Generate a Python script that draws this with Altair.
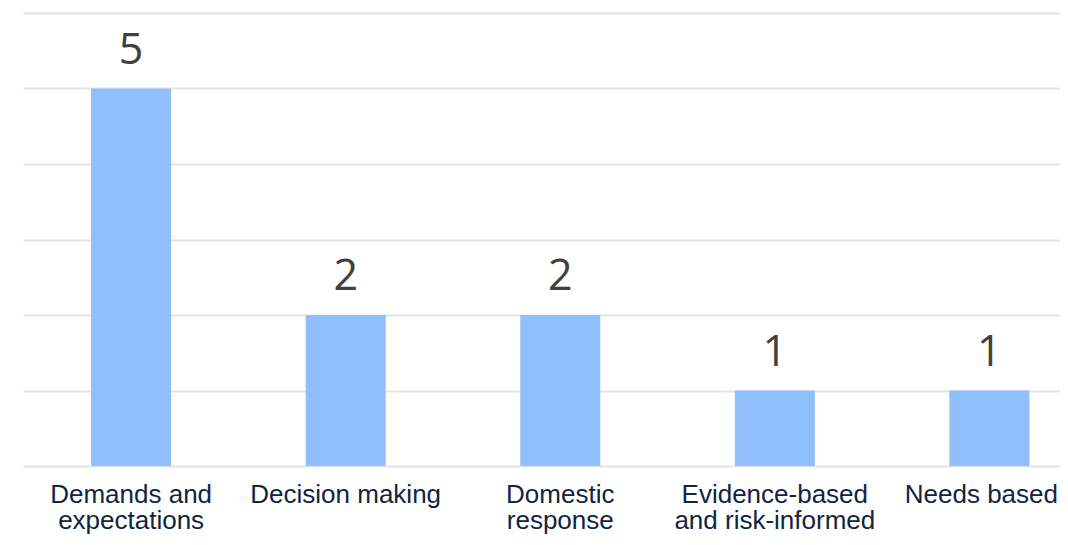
import altair as alt
import pandas as pd

categories = ["Demands and expectations", "Decision making", "Domestic response",
              "Evidence-based and risk-informed", "Needs based"]
label_lines = [["Demands and", "expectations"], ["Decision making"], ["Domestic", "response"],
               ["Evidence-based", "and risk-informed"], ["Needs based"]]
values = [5, 2, 2, 1, 1]
y_ticks = [0, 1, 2, 3, 4, 5, 6]

df = pd.DataFrame({"category": categories, "value": values})

# build label expression (multi-line labels)
expr = ""
for cat, lines in zip(categories, label_lines):
    arr = "[" + ",".join("'" + l + "'" for l in lines) + "]"
    expr += f"datum.label == '{cat}' ? {arr} : "
expr += "datum.label"

xenc = alt.X(
    "category:N",
    sort=categories,
    scale=alt.Scale(paddingInner=0.627, paddingOuter=0.23, align=0.69),
    axis=alt.Axis(
        title=None, labelExpr=expr, labelAngle=0, labelFontSize=26,
        labelFont="Arial", labelColor="#10253f", labelLineHeight=26,
        labelPadding=15, ticks=False, tickSize=0, domain=False, labelLimit=400,
        labelOverlap=False, labelBaseline="top",
        labelOffset={"condition": {"test": f"datum.value === '{categories[-1]}'", "value": -8},
                     "value": 0},
    ),
)
yenc = alt.Y(
    "value:Q",
    scale=alt.Scale(domain=[0, 6], nice=False),
    axis=alt.Axis(title=None, labels=False, ticks=False, domain=False, values=y_ticks,
                  gridColor="#e4e4e8", gridWidth=2),
)

bars = alt.Chart(df).mark_bar(color="#8FBFFC").encode(x=xenc, y=yenc)
text = alt.Chart(df).mark_text(
    dy=-25, baseline="alphabetic", fontSize=43, font="Open Sans", color="#404040"
).encode(x=alt.X("category:N", sort=categories), y="value:Q", text="value:Q")

chart = alt.layer(bars, text).properties(
    width=1037, height=453,
    autosize=alt.AutoSizeParams(type="none"),
    padding={"left": 15, "top": 5, "right": 0, "bottom": 71},
).configure_view(stroke=None)

chart.save("out.html", embed_options={"renderer": "svg", "actions": False})
